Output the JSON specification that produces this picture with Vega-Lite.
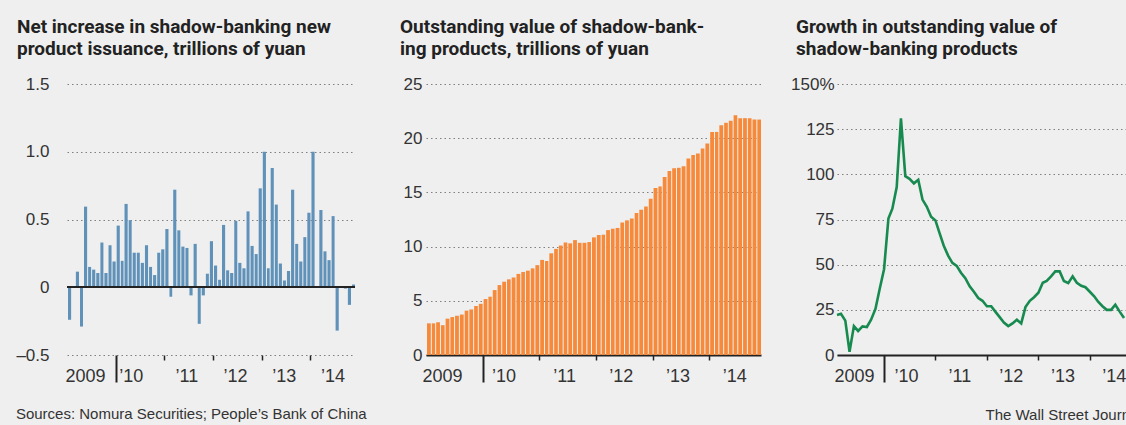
{
  "$schema": "https://vega.github.io/schema/vega-lite/v6.json",
  "background": "#efefef",
  "padding": {"left": 15, "top": 18, "right": 0, "bottom": 4},
  "spacing": 29,
  "align": "none",
  "title": {
    "text": "Sources: Nomura Securities; People’s Bank of China",
    "orient": "bottom", "anchor": "start", "frame": "bounds",
    "font": "Liberation Sans", "fontSize": 15, "fontWeight": "normal", "color": "#333",
    "baseline": "alphabetic", "offset": -3
  },
  "config": {
    "view": {"stroke": null},
    "font": "Liberation Sans",
    "title": {
      "font": "Roboto",
      "fontSize": 19, "fontWeight": "bold", "color": "#222",
      "anchor": "start", "frame": "group", "baseline": "alphabetic",
      "lineHeight": 22, "offset": 16
    },
    "axis": {
      "labelFont": "Liberation Sans", "labelColor": "#333",
      "titleFont": "Liberation Sans", "titleFontWeight": "normal", "titleFontSize": 15, "titleColor": "#333",
      "labelOverlap": false, "labelFlush": false
    },
    "axisY": {
      "domain": false, "ticks": false, "grid": true,
      "gridColor": "#808080", "gridDash": [1.5, 3], "gridWidth": 1.2,
      "labelFontSize": 17, "title": null
    },
    "axisX": {
      "grid": false, "labelFontSize": 18,
      "domainColor": "#222", "domainWidth": 1.8, "tickColor": "#222"
    }
  },
  "datasets": {
    "banks": [
      {"date": "2009/01/01", "net": -0.24, "outstanding": 2.92},
      {"date": "2009/02/01", "net": 0, "outstanding": 2.92},
      {"date": "2009/03/01", "net": 0.115, "outstanding": 3.02},
      {"date": "2009/04/01", "net": -0.29, "outstanding": 2.75},
      {"date": "2009/05/01", "net": 0.595, "outstanding": 3.35},
      {"date": "2009/06/01", "net": 0.15, "outstanding": 3.5},
      {"date": "2009/07/01", "net": 0.13, "outstanding": 3.62},
      {"date": "2009/08/01", "net": 0.105, "outstanding": 3.73},
      {"date": "2009/09/01", "net": 0.33, "outstanding": 4.09},
      {"date": "2009/10/01", "net": 0.105, "outstanding": 4.2},
      {"date": "2009/11/01", "net": 0.31, "outstanding": 4.52},
      {"date": "2009/12/01", "net": 0.19, "outstanding": 4.72},
      {"date": "2010/01/01", "net": 0.455, "outstanding": 5.16},
      {"date": "2010/02/01", "net": 0.195, "outstanding": 5.38},
      {"date": "2010/03/01", "net": 0.615, "outstanding": 5.99},
      {"date": "2010/04/01", "net": 0.495, "outstanding": 6.45},
      {"date": "2010/05/01", "net": 0.255, "outstanding": 6.76},
      {"date": "2010/06/01", "net": 0.255, "outstanding": 6.98},
      {"date": "2010/07/01", "net": 0.18, "outstanding": 7.15},
      {"date": "2010/08/01", "net": 0.31, "outstanding": 7.48},
      {"date": "2010/09/01", "net": 0.15, "outstanding": 7.66},
      {"date": "2010/10/01", "net": 0.09, "outstanding": 7.78},
      {"date": "2010/11/01", "net": 0.255, "outstanding": 7.99},
      {"date": "2010/12/01", "net": 0.28, "outstanding": 8.29},
      {"date": "2011/01/01", "net": 0.43, "outstanding": 8.77},
      {"date": "2011/02/01", "net": -0.07, "outstanding": 8.67},
      {"date": "2011/03/01", "net": 0.72, "outstanding": 9.38},
      {"date": "2011/04/01", "net": 0.42, "outstanding": 9.79},
      {"date": "2011/05/01", "net": 0.3, "outstanding": 10.1},
      {"date": "2011/06/01", "net": 0.29, "outstanding": 10.38},
      {"date": "2011/07/01", "net": -0.06, "outstanding": 10.3},
      {"date": "2011/08/01", "net": 0.32, "outstanding": 10.6},
      {"date": "2011/09/01", "net": -0.27, "outstanding": 10.35},
      {"date": "2011/10/01", "net": -0.06, "outstanding": 10.35},
      {"date": "2011/11/01", "net": 0.1, "outstanding": 10.42},
      {"date": "2011/12/01", "net": 0.34, "outstanding": 10.85},
      {"date": "2012/01/01", "net": 0.16, "outstanding": 11.07},
      {"date": "2012/02/01", "net": 0.055, "outstanding": 11.1},
      {"date": "2012/03/01", "net": 0.46, "outstanding": 11.52},
      {"date": "2012/04/01", "net": 0.125, "outstanding": 11.65},
      {"date": "2012/05/01", "net": 0.105, "outstanding": 11.72},
      {"date": "2012/06/01", "net": 0.49, "outstanding": 12.22},
      {"date": "2012/07/01", "net": 0.18, "outstanding": 12.42},
      {"date": "2012/08/01", "net": 0.14, "outstanding": 12.6},
      {"date": "2012/09/01", "net": 0.56, "outstanding": 13.1},
      {"date": "2012/10/01", "net": 0.305, "outstanding": 13.4},
      {"date": "2012/11/01", "net": 0.245, "outstanding": 13.7},
      {"date": "2012/12/01", "net": 0.73, "outstanding": 14.42},
      {"date": "2013/01/01", "net": 1.0, "outstanding": 15.4},
      {"date": "2013/02/01", "net": 0.14, "outstanding": 15.55},
      {"date": "2013/03/01", "net": 0.88, "outstanding": 16.42},
      {"date": "2013/04/01", "net": 0.61, "outstanding": 16.98},
      {"date": "2013/05/01", "net": 0.175, "outstanding": 17.22},
      {"date": "2013/06/01", "net": 0.05, "outstanding": 17.27},
      {"date": "2013/07/01", "net": 0.12, "outstanding": 17.42},
      {"date": "2013/08/01", "net": 0.72, "outstanding": 18.12},
      {"date": "2013/09/01", "net": 0.32, "outstanding": 18.45},
      {"date": "2013/10/01", "net": 0.19, "outstanding": 18.6},
      {"date": "2013/11/01", "net": 0.37, "outstanding": 19.05},
      {"date": "2013/12/01", "net": 0.55, "outstanding": 19.52},
      {"date": "2014/01/01", "net": 1.0, "outstanding": 20.58},
      {"date": "2014/02/01", "net": 0.005, "outstanding": 20.58},
      {"date": "2014/03/01", "net": 0.57, "outstanding": 21.2},
      {"date": "2014/04/01", "net": 0.265, "outstanding": 21.42},
      {"date": "2014/05/01", "net": 0.2, "outstanding": 21.62},
      {"date": "2014/06/01", "net": 0.525, "outstanding": 22.12},
      {"date": "2014/07/01", "net": -0.32, "outstanding": 21.85},
      {"date": "2014/08/01", "net": 0.005, "outstanding": 21.85},
      {"date": "2014/09/01", "net": -0.01, "outstanding": 21.85},
      {"date": "2014/10/01", "net": -0.13, "outstanding": 21.72},
      {"date": "2014/11/01", "net": 0.02, "outstanding": 21.72}
    ],
    "growth": [
      {"date": "2009/02/01", "growth": 22.2},
      {"date": "2009/03/01", "growth": 22.8},
      {"date": "2009/04/01", "growth": 19},
      {"date": "2009/05/01", "growth": 1.8},
      {"date": "2009/06/01", "growth": 16},
      {"date": "2009/07/01", "growth": 13.3},
      {"date": "2009/08/01", "growth": 15.8},
      {"date": "2009/09/01", "growth": 15.5},
      {"date": "2009/10/01", "growth": 19.5},
      {"date": "2009/11/01", "growth": 25.5},
      {"date": "2009/12/01", "growth": 36.5},
      {"date": "2010/01/01", "growth": 47.5},
      {"date": "2010/02/01", "growth": 75.5},
      {"date": "2010/03/01", "growth": 81},
      {"date": "2010/04/01", "growth": 93},
      {"date": "2010/05/01", "growth": 131},
      {"date": "2010/06/01", "growth": 99},
      {"date": "2010/07/01", "growth": 97.5},
      {"date": "2010/08/01", "growth": 95},
      {"date": "2010/09/01", "growth": 97},
      {"date": "2010/10/01", "growth": 86},
      {"date": "2010/11/01", "growth": 82},
      {"date": "2010/12/01", "growth": 76.5},
      {"date": "2011/01/01", "growth": 74.5},
      {"date": "2011/02/01", "growth": 67},
      {"date": "2011/03/01", "growth": 60.5},
      {"date": "2011/04/01", "growth": 55},
      {"date": "2011/05/01", "growth": 51},
      {"date": "2011/06/01", "growth": 49.3},
      {"date": "2011/07/01", "growth": 45.5},
      {"date": "2011/08/01", "growth": 42.5},
      {"date": "2011/09/01", "growth": 38},
      {"date": "2011/10/01", "growth": 35},
      {"date": "2011/11/01", "growth": 31.5},
      {"date": "2011/12/01", "growth": 30},
      {"date": "2012/01/01", "growth": 27},
      {"date": "2012/02/01", "growth": 27},
      {"date": "2012/03/01", "growth": 24},
      {"date": "2012/04/01", "growth": 21},
      {"date": "2012/05/01", "growth": 18},
      {"date": "2012/06/01", "growth": 16},
      {"date": "2012/07/01", "growth": 17.5},
      {"date": "2012/08/01", "growth": 19.5},
      {"date": "2012/09/01", "growth": 17.5},
      {"date": "2012/10/01", "growth": 26.5},
      {"date": "2012/11/01", "growth": 30},
      {"date": "2012/12/01", "growth": 32},
      {"date": "2013/01/01", "growth": 34.5},
      {"date": "2013/02/01", "growth": 40},
      {"date": "2013/03/01", "growth": 41},
      {"date": "2013/04/01", "growth": 43.5},
      {"date": "2013/05/01", "growth": 46.3},
      {"date": "2013/06/01", "growth": 46.3},
      {"date": "2013/07/01", "growth": 41},
      {"date": "2013/08/01", "growth": 39.8},
      {"date": "2013/09/01", "growth": 43.5},
      {"date": "2013/10/01", "growth": 40},
      {"date": "2013/11/01", "growth": 38.3},
      {"date": "2013/12/01", "growth": 37.5},
      {"date": "2014/01/01", "growth": 35},
      {"date": "2014/02/01", "growth": 32.5},
      {"date": "2014/03/01", "growth": 29.5},
      {"date": "2014/04/01", "growth": 27},
      {"date": "2014/05/01", "growth": 25},
      {"date": "2014/06/01", "growth": 25},
      {"date": "2014/07/01", "growth": 27.8},
      {"date": "2014/08/01", "growth": 24},
      {"date": "2014/09/01", "growth": 20.5}
    ]
  },
  "hconcat": [
    {
      "width": 288, "height": 271,
      "title": {"text": ["Net increase in shadow-banking new", "product issuance, trillions of yuan"], "dx": -50},
      "data": {"name": "banks"},
      "layer": [
        {
          "mark": {"type": "bar", "color": "#5f91b9"},
          "encoding": {
            "x": {
              "field": "date", "type": "temporal", "timeUnit": "yearmonth",
              "scale": {"domain": [{"year": 2009, "month": 1, "date": 1}, {"year": 2014, "month": 12, "date": 1}]},
              "axis": {
                "domain": false,
                "values": [{"year": 2009, "month": 1, "date": 1}, {"year": 2010, "month": 1, "date": 1}, {"year": 2011, "month": 1, "date": 1}, {"year": 2012, "month": 1, "date": 1}, {"year": 2013, "month": 1, "date": 1}, {"year": 2014, "month": 1, "date": 1}],
                "tickSize": {"condition": {"test": "year(datum.value) == 2010", "value": 27}, "value": 5},
                "tickWidth": {"condition": {"test": "year(datum.value) == 2010", "value": 2}, "value": 1.5},
                "tickOpacity": {"condition": {"test": "year(datum.value) == 2009", "value": 0}, "value": 1},
                "labelPadding": {"condition": {"test": "year(datum.value) == 2010", "value": -15}, "value": 7},
                "labelExpr": "year(datum.value) == 2009 ? '2009' : '’' + timeFormat(datum.value, '%y')",
                "labelAlign": {"condition": {"test": "year(datum.value) <= 2010", "value": "left"}, "value": "center"},
                "labelOffset": {"condition": [{"test": "year(datum.value) == 2009", "value": -2}, {"test": "year(datum.value) == 2010", "value": 3}], "value": 22},
                "title": null
              }
            },
            "y": {
              "field": "net", "type": "quantitative",
              "scale": {"domain": [-0.5, 1.5], "nice": false, "zero": false},
              "axis": {"values": [-0.5, 0, 0.5, 1, 1.5], "labelPadding": 18,
                "labelExpr": "datum.value == 0 ? '0' : datum.value < 0 ? '–0.5' : format(datum.value, '.1f')"}
            }
          }
        },
        {
          "mark": {"type": "rule", "color": "#222", "strokeWidth": 1.6},
          "encoding": {"y": {"datum": 0}}
        }
      ]
    },
    {
      "width": 335, "height": 271,
      "title": {"text": ["Outstanding value of shadow-bank-", "ing products, trillions of yuan"], "dx": -26},
      "data": {"name": "banks"},
      "mark": {"type": "bar", "color": "#f6893a"},
      "encoding": {
        "x": {
          "field": "date", "type": "temporal", "timeUnit": "yearmonth",
          "scale": {"domain": [{"year": 2009, "month": 1, "date": 1}, {"year": 2014, "month": 12, "date": 1}]},
          "axis": {
            "values": [{"year": 2009, "month": 1, "date": 1}, {"year": 2010, "month": 1, "date": 1}, {"year": 2011, "month": 1, "date": 1}, {"year": 2012, "month": 1, "date": 1}, {"year": 2013, "month": 1, "date": 1}, {"year": 2014, "month": 1, "date": 1}],
            "tickSize": {"condition": {"test": "year(datum.value) == 2010", "value": 27}, "value": 5},
            "tickWidth": {"condition": {"test": "year(datum.value) == 2010", "value": 2}, "value": 1.5},
            "tickOpacity": {"condition": {"test": "year(datum.value) == 2009", "value": 0}, "value": 1},
            "labelPadding": {"condition": {"test": "year(datum.value) == 2010", "value": -15}, "value": 7},
            "labelExpr": "year(datum.value) == 2009 ? '2009' : '’' + timeFormat(datum.value, '%y')",
            "labelAlign": {"condition": {"test": "year(datum.value) <= 2010", "value": "left"}, "value": "center"},
            "labelOffset": {"condition": [{"test": "year(datum.value) == 2009", "value": -4}, {"test": "year(datum.value) == 2010", "value": 9}], "value": 25},
            "title": null
          }
        },
        "y": {
          "field": "outstanding", "type": "quantitative",
          "scale": {"domain": [0, 25], "nice": false},
          "axis": {"values": [0, 5, 10, 15, 20, 25], "labelPadding": 4, "minExtent": 41}
        }
      }
    },
    {
      "width": 290, "height": 271,
      "title": {"text": ["Growth in outstanding value of", "shadow-banking products"], "dx": -41},
      "data": {"name": "growth"},
      "mark": {"type": "line", "color": "#178a4f", "strokeWidth": 2.6},
      "encoding": {
        "x": {
          "field": "date", "type": "temporal",
          "scale": {"domain": [{"year": 2009, "month": 2, "date": 1}, {"year": 2014, "month": 9, "date": 22}]},
          "axis": {
            "values": [{"year": 2009, "month": 2, "date": 1}, {"year": 2010, "month": 1, "date": 1}, {"year": 2011, "month": 1, "date": 1}, {"year": 2012, "month": 1, "date": 1}, {"year": 2013, "month": 1, "date": 1}, {"year": 2014, "month": 1, "date": 1}],
            "tickSize": {"condition": {"test": "year(datum.value) == 2010", "value": 27}, "value": 5},
            "tickWidth": {"condition": {"test": "year(datum.value) == 2010", "value": 2}, "value": 1.5},
            "tickOpacity": {"condition": {"test": "year(datum.value) == 2009", "value": 0}, "value": 1},
            "labelPadding": {"condition": {"test": "year(datum.value) == 2010", "value": -15}, "value": 7},
            "labelExpr": "year(datum.value) == 2009 ? '2009' : '’' + timeFormat(datum.value, '%y')",
            "labelAlign": {"condition": {"test": "year(datum.value) <= 2010", "value": "left"}, "value": "center"},
            "labelOffset": {"condition": [{"test": "year(datum.value) == 2009", "value": -3}, {"test": "year(datum.value) == 2010", "value": 10}], "value": 24},
            "title": "The Wall Street Journal",
            "titleX": 148, "titleY": 64, "titleAlign": "left", "titleAnchor": null,
            "titleBaseline": "alphabetic"
          }
        },
        "y": {
          "field": "growth", "type": "quantitative",
          "scale": {"domain": [0, 150], "nice": false},
          "axis": {"values": [0, 25, 50, 75, 100, 125, 150], "labelPadding": 3,
            "labelExpr": "datum.value == 150 ? '150%' : datum.label"}
        }
      }
    }
  ]
}
